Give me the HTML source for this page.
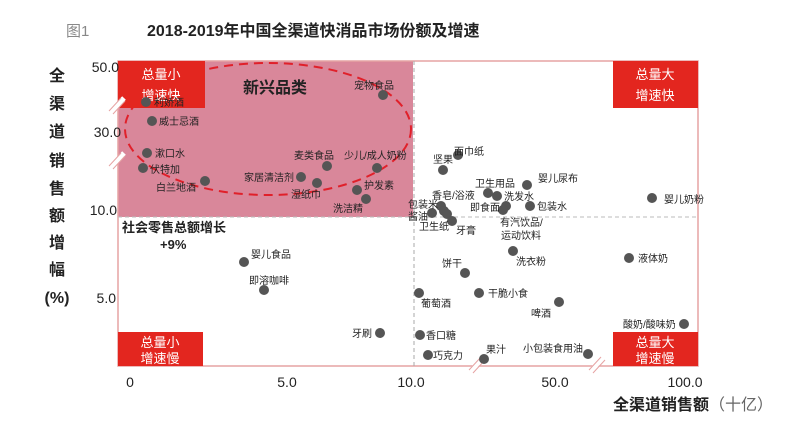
<!DOCTYPE html>
<html><head><meta charset="utf-8"><style>
html,body{margin:0;padding:0;background:#fff;}
svg{display:block;font-family:"Liberation Sans","Noto Sans CJK SC",sans-serif;}
</style></head><body>
<svg width="800" height="426" viewBox="0 0 800 426" xmlns="http://www.w3.org/2000/svg">
<rect width="800" height="426" fill="#fff"/>
<text x="66" y="36" font-size="15" fill="#888">图1</text>
<text x="147" y="36" font-size="16" font-weight="bold" fill="#222">2018-2019年中国全渠道快消品市场份额及增速</text>
<rect x="118" y="61" width="295" height="156" fill="#d9879a"/>
<rect x="118" y="61" width="580" height="305" fill="none" stroke="#e6a3a3" stroke-width="1.5"/>
<line x1="414" y1="61" x2="414" y2="366" stroke="#aaa" stroke-width="1" stroke-dasharray="4,3"/>
<line x1="118" y1="217" x2="698" y2="217" stroke="#bbb" stroke-width="1" stroke-dasharray="4,3"/>
<ellipse cx="268" cy="129" rx="143" ry="66" fill="none" stroke="#e0202a" stroke-width="2" stroke-dasharray="9,6"/>
<g font-size="13" fill="#fff" text-anchor="middle">
<rect x="118" y="61" width="87" height="47" fill="#e3261f"/>
<text x="161" y="79">总量小</text><text x="161" y="100">增速快</text>
<rect x="613" y="61" width="85" height="47" fill="#e3261f"/>
<text x="655" y="79">总量大</text><text x="655" y="100">增速快</text>
<rect x="118" y="332" width="85" height="34" fill="#e3261f"/>
<text x="160" y="347">总量小</text><text x="160" y="363">增速慢</text>
<rect x="613" y="332" width="85" height="34" fill="#e3261f"/>
<text x="655" y="347">总量大</text><text x="655" y="363">增速慢</text>
</g>
<text x="243" y="93" font-size="16" font-weight="bold" fill="#222">新兴品类</text>
<g font-size="14" fill="#222" text-anchor="end">
<text x="119" y="72">50.0</text>
<text x="121" y="137">30.0</text>
<text x="117" y="215">10.0</text>
<text x="116" y="303">5.0</text>
</g>
<g font-size="14" fill="#222" text-anchor="middle">
<text x="130" y="387">0</text>
<text x="287" y="387">5.0</text>
<text x="411" y="387">10.0</text>
<text x="555" y="387">50.0</text>
<text x="685" y="387">100.0</text>
</g>
<text x="613" y="410" font-size="16" font-weight="bold" fill="#222">全渠道销售额<tspan font-weight="normal" fill="#666">（十亿）</tspan></text>
<g font-size="16" font-weight="bold" fill="#222" text-anchor="middle">
<text x="57" y="81">全</text><text x="57" y="109">渠</text><text x="57" y="137">道</text><text x="57" y="166">销</text><text x="57" y="194">售</text><text x="57" y="221">额</text><text x="57" y="248">增</text><text x="57" y="275">幅</text><text x="57" y="303">(%)</text>
</g>
<g stroke="#fff" stroke-width="5"><line x1="110" y1="113" x2="124" y2="98"/><line x1="110" y1="168" x2="124" y2="153"/><line x1="470" y1="372" x2="484" y2="356"/><line x1="590" y1="372" x2="604" y2="356"/></g>
<g stroke="#e6a3a3" stroke-width="1"><line x1="109" y1="111" x2="121" y2="98"/><line x1="113" y1="114" x2="125" y2="101"/><line x1="109" y1="166" x2="121" y2="153"/><line x1="113" y1="169" x2="125" y2="156"/><line x1="469" y1="370" x2="481" y2="357"/><line x1="473" y1="373" x2="485" y2="360"/><line x1="589" y1="370" x2="601" y2="357"/><line x1="593" y1="373" x2="605" y2="360"/></g>
<text x="122" y="232" font-size="13" font-weight="bold" fill="#222">社会零售总额增长</text>
<text x="160" y="249" font-size="13" font-weight="bold" fill="#222">+9%</text>
<g fill="#555">
<circle cx="146" cy="102" r="5"/><circle cx="152" cy="121" r="5"/><circle cx="147" cy="153" r="5"/><circle cx="143" cy="168" r="5"/><circle cx="205" cy="181" r="5"/><circle cx="383" cy="95" r="5"/><circle cx="327" cy="166" r="5"/><circle cx="301" cy="177" r="5"/><circle cx="317" cy="183" r="5"/><circle cx="377" cy="168" r="5"/><circle cx="357" cy="190" r="5"/><circle cx="366" cy="199" r="5"/>
<circle cx="443" cy="170" r="5"/><circle cx="458" cy="155" r="5"/><circle cx="488" cy="193" r="5"/><circle cx="497" cy="196" r="5"/><circle cx="527" cy="185" r="5"/><circle cx="530" cy="206" r="5"/><circle cx="506" cy="206" r="5"/><circle cx="503" cy="210" r="5"/><circle cx="441" cy="206" r="5"/><circle cx="444" cy="211" r="5"/><circle cx="447" cy="214" r="5"/><circle cx="432" cy="213" r="5"/><circle cx="452" cy="221" r="5"/><circle cx="652" cy="198" r="5"/><circle cx="513" cy="251" r="5"/><circle cx="629" cy="258" r="5"/><circle cx="465" cy="273" r="5"/><circle cx="479" cy="293" r="5"/><circle cx="419" cy="293" r="5"/><circle cx="559" cy="302" r="5"/><circle cx="684" cy="324" r="5"/><circle cx="420" cy="335" r="5"/><circle cx="428" cy="355" r="5"/><circle cx="484" cy="359" r="5"/><circle cx="588" cy="354" r="5"/><circle cx="244" cy="262" r="5"/><circle cx="264" cy="290" r="5"/><circle cx="380" cy="333" r="5"/>
</g>
<g font-size="10" fill="#222">
<text x="154" y="106">利娇酒</text><text x="159" y="125">威士忌酒</text><text x="155" y="157">漱口水</text><text x="150" y="173">伏特加</text><text x="156" y="191">白兰地酒</text><text x="354" y="89">宠物食品</text><text x="294" y="159">麦类食品</text><text x="244" y="181">家居清洁剂</text><text x="291" y="198">湿纸巾</text><text x="344" y="159">少儿/成人奶粉</text><text x="364" y="189">护发素</text><text x="333" y="212">洗洁精</text>
<text x="433" y="163">坚果</text><text x="454" y="155">面巾纸</text><text x="475" y="187">卫生用品</text><text x="504" y="200">洗发水</text><text x="538" y="182">婴儿尿布</text><text x="537" y="210">包装水</text><text x="470" y="211">即食面</text><text x="432" y="199">香皂/浴液</text><text x="408" y="208">包装米</text><text x="408" y="220">酱油</text><text x="419" y="230">卫生纸</text><text x="456" y="234">牙膏</text><text x="500" y="226">有汽饮品/</text><text x="501" y="239">运动饮料</text><text x="664" y="203">婴儿奶粉</text><text x="516" y="265">洗衣粉</text><text x="638" y="262">液体奶</text><text x="442" y="267">饼干</text><text x="488" y="297">干脆小食</text><text x="421" y="307">葡萄酒</text><text x="531" y="317">啤酒</text><text x="623" y="328">酸奶/酸味奶</text><text x="426" y="339">香口糖</text><text x="433" y="359">巧克力</text><text x="486" y="353">果汁</text><text x="523" y="352">小包装食用油</text><text x="251" y="258">婴儿食品</text><text x="249" y="284">即溶咖啡</text><text x="352" y="337">牙刷</text>
</g>
</svg>
</body></html>
